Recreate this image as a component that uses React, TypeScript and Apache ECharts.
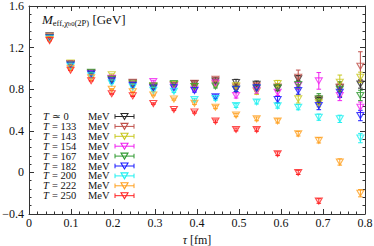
import React, { useEffect, useRef } from "react";
import * as echarts from "echarts";

// Euclidean time (fm)
const TAU = [0.049, 0.099, 0.148, 0.197, 0.247, 0.296, 0.345, 0.394, 0.444, 0.493, 0.542, 0.592, 0.641, 0.69, 0.74, 0.789];

const TEMP_REL = ["≃", "=", "=", "=", "=", "=", "=", "=", "="];
const TEMP_VAL = ["0", "133", "143", "154", "167", "182", "200", "222", "250"];
const COLORS = ["#2a2a2a", "#c0504a", "#c8c820", "#f020f0", "#2f9a2f", "#1a1aff", "#20f0f0", "#ffa020", "#ff2020"];

// effective masses (GeV)
const M_T0 = [1.315, 1.048, 0.955, 0.895, 0.862, 0.822, 0.84, 0.855, 0.878, 0.865, 0.848, 0.81, 0.9, 0.69, 0.815, 0.85];
const M_T133 = [1.31, 1.045, 0.955, 0.9, 0.866, 0.822, 0.838, 0.858, 0.895, 0.822, 0.83, 0.822, 0.914, 0.7, 0.82, 1.02];
const M_T143 = [1.305, 1.052, 0.952, 0.94, 0.852, 0.832, 0.846, 0.826, 0.85, 0.834, 0.78, 0.855, 0.707, 0.67, 0.866, 0.914];
const M_T154 = [1.3, 1.04, 0.95, 0.905, 0.846, 0.875, 0.83, 0.8, 0.86, 0.74, 0.79, 0.77, 0.835, 0.88, 0.74, 0.627];
const M_T167 = [1.298, 1.036, 0.962, 0.895, 0.85, 0.83, 0.855, 0.825, 0.83, 0.8, 0.81, 0.815, 0.845, 0.707, 0.8, 0.74];
const M_T182 = [1.292, 1.03, 0.945, 0.88, 0.835, 0.812, 0.815, 0.787, 0.728, 0.8, 0.815, 0.7, 0.787, 0.643, 0.77, 0.547];
const M_T200 = [1.285, 1.02, 0.93, 0.86, 0.82, 0.79, 0.78, 0.7, 0.71, 0.643, 0.678, 0.64, 0.627, 0.531, 0.515, 0.33];
const M_T222 = [1.278, 1.002, 0.91, 0.8, 0.775, 0.745, 0.705, 0.665, 0.627, 0.552, 0.515, 0.495, 0.372, 0.308, 0.1, -0.2];
const M_T250 = [1.268, 0.983, 0.882, 0.757, 0.736, 0.662, 0.605, 0.58, 0.493, 0.413, 0.412, 0.18, 0.0, -0.275, null, null];

// errors (GeV)
const E_T0 = [0.003, 0.004, 0.005, 0.006, 0.008, 0.01, 0.012, 0.014, 0.018, 0.03, 0.03, 0.025, 0.03, 0.03, 0.035, 0.04];
const E_T133 = [0.003, 0.004, 0.005, 0.007, 0.009, 0.011, 0.013, 0.02, 0.02, 0.025, 0.03, 0.03, 0.07, 0.04, 0.05, 0.14];
const E_T143 = [0.003, 0.004, 0.005, 0.007, 0.009, 0.011, 0.013, 0.016, 0.02, 0.025, 0.03, 0.03, 0.04, 0.04, 0.07, 0.05];
const E_T154 = [0.003, 0.004, 0.005, 0.007, 0.009, 0.011, 0.013, 0.016, 0.02, 0.025, 0.03, 0.03, 0.04, 0.08, 0.05, 0.05];
const E_T167 = [0.003, 0.004, 0.005, 0.006, 0.008, 0.01, 0.012, 0.015, 0.018, 0.022, 0.028, 0.03, 0.04, 0.05, 0.07, 0.05];
const E_T182 = [0.003, 0.004, 0.005, 0.006, 0.008, 0.01, 0.012, 0.015, 0.018, 0.022, 0.025, 0.03, 0.035, 0.04, 0.05, 0.05];
const E_T200 = [0.003, 0.004, 0.005, 0.006, 0.007, 0.009, 0.011, 0.013, 0.015, 0.018, 0.02, 0.022, 0.025, 0.03, 0.035, 0.045];
const E_T222 = [0.003, 0.003, 0.004, 0.005, 0.006, 0.008, 0.01, 0.012, 0.014, 0.016, 0.018, 0.02, 0.022, 0.025, 0.03, 0.035];
const E_T250 = [0.003, 0.003, 0.004, 0.005, 0.006, 0.007, 0.008, 0.01, 0.012, 0.014, 0.016, 0.018, 0.02, 0.022, null, null];

const VALUES = [M_T0, M_T133, M_T143, M_T154, M_T167, M_T182, M_T200, M_T222, M_T250];
const ERRORS = [E_T0, E_T133, E_T143, E_T154, E_T167, E_T182, E_T200, E_T222, E_T250];

const X_MIN = 0, X_MAX = 0.8, X_STEP = 0.1;
const Y_MIN = -0.4, Y_MAX = 1.6, Y_STEP = 0.4;

const FONT = "'Liberation Serif', 'DejaVu Serif', serif";
const AXIS_COLOR = "#333";
const TXT = "#111";

export default function App() {
  const ref = useRef<HTMLDivElement>(null);
  useEffect(() => {
    document.body.style.margin = "0";
    const chart = echarts.init(ref.current!, null, { renderer: "svg" });

    const series: any[] = [];
    VALUES.forEach((vals, i) => {
      const color = COLORS[i];
      const errs = ERRORS[i];
      const pts = TAU.map((t, j) => (vals[j] == null ? null : [t, vals[j], errs[j]])).filter((p) => p !== null) as number[][];
      series.push({
        type: "custom",
        xAxisIndex: 0,
        yAxisIndex: 0,
        silent: true,
        z: 2,
        data: pts,
        renderItem: (_p: any, api: any) => {
          const x = api.value(0), y = api.value(1), e = api.value(2);
          const a = api.coord([x, y + e]);
          const b = api.coord([x, y - e]);
          const hw = 2.3;
          const st = { stroke: color, lineWidth: 1 };
          return {
            type: "group",
            children: [
              { type: "line", shape: { x1: a[0], y1: a[1], x2: b[0], y2: b[1] }, style: st },
              { type: "line", shape: { x1: a[0] - hw, y1: a[1], x2: a[0] + hw, y2: a[1] }, style: st },
              { type: "line", shape: { x1: b[0] - hw, y1: b[1], x2: b[0] + hw, y2: b[1] }, style: st },
            ],
          };
        },
      });
      series.push({
        type: "scatter",
        xAxisIndex: 0,
        yAxisIndex: 0,
        z: 3,
        symbol: "triangle",
        symbolRotate: 180,
        symbolSize: [7, 6],
        itemStyle: { color: "rgba(255,255,255,0)", borderColor: color, borderWidth: 1.1 },
        data: pts.map((p) => [p[0], p[1]]),
      });
    });

    const graphic: any[] = [
      {
        type: "text",
        x: 42,
        y: 19,
        style: {
          text: "{mi|M}{s|eff,χ}{ss|b0}{s|(2P)}{m| [GeV]}",
          fill: TXT,
          verticalAlign: "middle",
          rich: {
            mi: { fontFamily: FONT, fontSize: 13, fontStyle: "italic", lineHeight: 16, verticalAlign: "middle" },
            m: { fontFamily: FONT, fontSize: 13, lineHeight: 16, verticalAlign: "middle" },
            s: { fontFamily: FONT, fontSize: 8.5, lineHeight: 8, verticalAlign: "bottom" },
            ss: { fontFamily: FONT, fontSize: 6.5, lineHeight: 6, verticalAlign: "bottom" },
          },
        },
      },
    ];

    const rowY0 = 116.5, rowDy = 9.9;
    const LF = 10.5;
    TEMP_VAL.forEach((tv, i) => {
      const cy = rowY0 + rowDy * i;
      const color = COLORS[i];
      const ts = { fill: TXT, fontFamily: FONT, fontSize: LF, lineHeight: 9, verticalAlign: "middle" };
      graphic.push({ type: "text", x: 43, y: cy, style: { ...ts, text: "T", fontStyle: "italic" } });
      graphic.push({ type: "text", x: 52, y: cy, style: { ...ts, text: `${TEMP_REL[i]} ${tv}` } });
      graphic.push({ type: "text", x: 88, y: cy, style: { ...ts, text: "MeV" } });
      const st = { stroke: color, lineWidth: 1 };
      graphic.push({ type: "line", shape: { x1: 115, y1: cy, x2: 134, y2: cy }, style: st });
      graphic.push({ type: "line", shape: { x1: 115, y1: cy - 2.3, x2: 115, y2: cy + 2.3 }, style: st });
      graphic.push({ type: "line", shape: { x1: 134, y1: cy - 2.3, x2: 134, y2: cy + 2.3 }, style: st });
      graphic.push({
        type: "polygon",
        shape: { points: [[121, cy - 3], [128, cy - 3], [124.5, cy + 3]] },
        style: { fill: "rgba(255,255,255,0)", stroke: color, lineWidth: 1.1 },
      });
    });

    const common = {
      axisLine: { show: true, onZero: false, lineStyle: { color: AXIS_COLOR, width: 1 } },
      axisTick: { show: true, inside: true, length: 5, lineStyle: { color: AXIS_COLOR } },
      minorTick: { show: true, splitNumber: 5, length: 2.5, lineStyle: { color: AXIS_COLOR } },
      splitLine: { show: false },
    };

    const fmtNum = (v: number) => {
      const r = Math.round(v * 10) / 10;
      const s = r === 0 ? "0" : String(r);
      return s.replace("-", "−");
    };

    chart.setOption({
      animation: false,
      grid: { left: 29, right: 9, top: 6, bottom: 32, containLabel: false, outerBoundsMode: "none" },
      xAxis: [
        {
          ...common,
          type: "value",
          position: "bottom",
          min: X_MIN,
          max: X_MAX,
          interval: X_STEP,
          name: "{i|τ} [fm]",
          nameLocation: "middle",
          nameGap: 16,
          nameTextStyle: {
            fontFamily: FONT,
            fontSize: 12,
            color: TXT,
            lineHeight: 12,
            rich: { i: { fontFamily: FONT, fontSize: 12, fontStyle: "italic", color: TXT, lineHeight: 12 } },
          },
          axisLabel: { fontFamily: FONT, fontSize: 12, lineHeight: 12, color: TXT, margin: 3, formatter: fmtNum },
        },
        {
          ...common,
          type: "value",
          position: "top",
          min: X_MIN,
          max: X_MAX,
          interval: X_STEP,
          axisLabel: { show: false },
        },
      ],
      yAxis: [
        {
          ...common,
          type: "value",
          position: "left",
          min: Y_MIN,
          max: Y_MAX,
          interval: Y_STEP,
          axisLabel: { fontFamily: FONT, fontSize: 12, lineHeight: 12, color: TXT, margin: 5, formatter: fmtNum },
        },
        {
          ...common,
          type: "value",
          position: "right",
          min: Y_MIN,
          max: Y_MAX,
          interval: Y_STEP,
          axisLabel: { show: false },
        },
      ],
      series,
      graphic,
    });
    return () => chart.dispose();
  }, []);
  return <div ref={ref} style={{ width: 374, height: 246 }} />;
}
